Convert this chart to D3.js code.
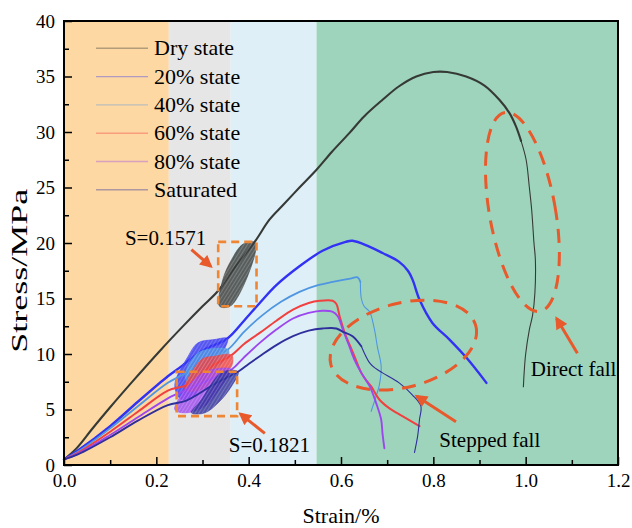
<!DOCTYPE html>
<html>
<head>
<meta charset="utf-8">
<script src="https://cdn.jsdelivr.net/npm/d3@7/dist/d3.min.js"></script>
<style>
  body { margin: 0; background: #fff; }
  text { font-family: "Liberation Serif", "Times New Roman", serif; fill: #000; }
</style>
</head>
<body>
<svg id="chart" width="632" height="528"></svg>
<script>
// ---- Stress–strain data (strain in %, stress in MPa) ----
const dryCurve = [[0,0.5],[0.027,1.5],[0.06,3.2],[0.1,5.2],[0.15,7.6],[0.208,10.3],[0.26,12.6],[0.3,14.3],[0.334,15.7],
  [0.37,17.8],[0.413,20.1],[0.445,22.1],[0.474,23.4],[0.51,25.0],[0.547,26.6],[0.58,28.2],[0.618,29.9],[0.65,31.4],
  [0.69,32.9],[0.725,34.1],[0.763,35.0],[0.80,35.4],[0.83,35.4],[0.871,35.0],[0.91,34.2],[0.943,32.9],[0.965,31.7],
  [0.979,30.5],[0.99,29.2],[1.001,27.5],[1.008,25.0],[1.013,23.0],[1.018,20.0],[1.021,18.5],[1.02,15.5],[1.015,13.5],
  [1.008,12.2],[1.0,10.0],[0.997,8.5],[0.995,7.0]];
const dryLoops = [[0.337,14.3],[0.363,14.4],[0.415,20.0],[0.388,19.9],[0.363,18.5],[0.344,16.7]];

const s20Curve = [[0,0.5],[0.03,1.3],[0.1,3.5],[0.16,5.7],[0.225,8.0],[0.245,8.6],[0.3,10.3],[0.354,11.4],[0.39,13.0],
  [0.424,14.6],[0.46,16.2],[0.51,17.9],[0.56,19.3],[0.61,20.1],[0.625,20.2],[0.66,19.7],[0.69,19.1],[0.726,18.3],
  [0.745,17.5],[0.755,16.7],[0.77,14.9],[0.798,12.8],[0.835,11.3],[0.871,9.7],[0.915,7.4]];
const s20Loops = [[0.240,7.2],[0.269,9.8],[0.290,11.0],[0.326,11.3],[0.354,11.4],[0.348,10.5],[0.326,9.3],[0.305,7.7],
  [0.283,6.3],[0.254,5.9]];

const s40Curve = [[0,0.5],[0.03,1.2],[0.1,3.3],[0.16,5.3],[0.225,7.4],[0.26,8.2],[0.31,9.5],[0.355,10.4],[0.39,12.0],
  [0.43,13.5],[0.47,14.7],[0.51,15.6],[0.55,16.2],[0.582,16.5],[0.62,16.8],[0.636,16.9],[0.642,16.5],[0.644,15.0],
  [0.65,14.3],[0.662,13.8],[0.672,12.3],[0.679,10.6],[0.687,8.9],[0.683,7.2],[0.676,6.2],[0.665,4.8]];
const s40Loops = [[0.262,8.0],[0.290,10.1],[0.355,10.4],[0.355,9.8],[0.305,8.0],[0.276,7.1]];

const s60Curve = [[0,0.5],[0.03,1.1],[0.1,3.0],[0.16,4.8],[0.225,6.7],[0.265,7.2],[0.32,8.9],[0.363,9.9],[0.39,10.9],
  [0.424,11.9],[0.46,13.0],[0.496,14.0],[0.53,14.6],[0.554,14.8],[0.582,14.8],[0.59,14.5],[0.597,13.4],[0.608,11.9],
  [0.62,10.7],[0.629,9.8],[0.644,8.3],[0.655,7.6],[0.665,7.1],[0.683,5.9],[0.705,5.1],[0.733,4.4],[0.77,3.5]];
const s60Loops = [[0.262,6.8],[0.298,9.5],[0.326,9.8],[0.363,9.9],[0.363,8.9],[0.334,8.0],[0.298,6.8]];

const s80Curve = [[0,0.5],[0.03,1.0],[0.1,2.7],[0.16,4.3],[0.225,6.0],[0.245,6.4],[0.31,7.6],[0.363,8.6],[0.39,9.7],
  [0.424,11.0],[0.46,12.2],[0.496,13.2],[0.53,13.7],[0.56,13.9],[0.582,13.8],[0.593,13.4],[0.604,12.2],[0.618,10.7],
  [0.629,9.5],[0.644,8.3],[0.662,7.1],[0.676,5.6],[0.687,4.1],[0.69,2.8],[0.694,1.5]];
const s80Loops = [[0.240,5.0],[0.269,7.1],[0.305,8.4],[0.363,8.6],[0.341,7.1],[0.305,5.3],[0.262,4.7]];

const satCurve = [[0,0.5],[0.03,0.95],[0.1,2.5],[0.16,4.0],[0.225,5.4],[0.265,5.8],[0.33,7.4],[0.377,8.4],[0.40,9.1],
  [0.424,9.8],[0.46,10.8],[0.496,11.6],[0.53,12.1],[0.56,12.3],[0.59,12.3],[0.604,12.0],[0.625,11.6],[0.644,10.7],
  [0.662,9.2],[0.675,8.7],[0.69,8.3],[0.726,7.4],[0.755,6.3],[0.773,5.3],[0.77,4.1],[0.766,2.6],[0.759,1.1]];
const satLoops = [[0.276,4.7],[0.298,5.9],[0.326,7.7],[0.344,8.4],[0.377,8.4],[0.363,7.1],[0.334,5.6],[0.305,4.7]];

const seriesNames = ["Dry state", "20% state", "40% state", "60% state", "80% state", "Saturated"];

// Stage bands along the strain axis
const bandEdges = [0, 0.227, 0.361, 0.547, 1.2];

// Axis ticks
const xTicks = [0, 0.2, 0.4, 0.6, 0.8, 1.0, 1.2];
const xMinor = [0.1, 0.3, 0.5, 0.7, 0.9, 1.1];
const yTicks = [0, 5, 10, 15, 20, 25, 30, 35, 40];
const yMinor = [2.5, 7.5, 12.5, 17.5, 22.5, 27.5, 32.5, 37.5];

// ---- Styling ----
const bandColors = ["#fdd8a3", "#e6e6e6", "#dfeff7", "#9fd4bc"];
const colors = ["#363a37", "#3232f4", "#4f96e2", "#f0403f", "#9c46ee", "#2e2e9c"];
const widths = [2.1, 2.4, 1.8, 2.0, 1.9, 1.9];
// the post-failure traces are drawn with a finer pen from this point index on (null = whole trace)
const thinFrom = [28, null, 16, null, null, 17];
const curves = [dryCurve, s20Curve, s40Curve, s60Curve, s80Curve, satCurve];
const loops = [dryLoops, s20Loops, s40Loops, s60Loops, s80Loops, satLoops];

const svg = d3.select("#chart");
const x = d3.scaleLinear().domain([0, 1.2]).range([64, 618]);
const y = d3.scaleLinear().domain([0, 40]).range([465, 21]);

const defs = svg.append("defs");
// Streak texture for the dense unloading/reloading cycles
colors.forEach((c, i) => {
  const p = defs.append("pattern").attr("id", "cyc" + i).attr("patternUnits", "userSpaceOnUse")
    .attr("width", 3).attr("height", 3).attr("patternTransform", "rotate(32)");
  p.append("line").attr("x1", 0.5).attr("x2", 0.5).attr("y1", 0).attr("y2", 3)
    .attr("stroke", "#ffffff").attr("stroke-opacity", 0.28).attr("stroke-width", 0.7);
});

// Background bands
svg.append("g").selectAll("rect")
  .data(d3.range(bandEdges.length - 1))
  .join("rect")
  .attr("x", i => x(bandEdges[i]))
  .attr("width", i => x(bandEdges[i + 1]) - x(bandEdges[i]))
  .attr("y", y(40)).attr("height", y(0) - y(40))
  .attr("fill", i => bandColors[i]);

const line = d3.line().x(d => x(d[0])).y(d => y(d[1])).curve(d3.curveCatmullRom.alpha(0.5));
const loopShape = d3.line().x(d => x(d[0])).y(d => y(d[1])).curve(d3.curveCatmullRomClosed.alpha(0.5));

const plot = svg.append("g");
curves.forEach((c, i) => {
  const cut = thinFrom[i];
  const main = cut == null ? c : c.slice(0, cut + 1);
  plot.append("path").attr("d", line(main)).attr("fill", "none")
    .attr("stroke", colors[i]).attr("stroke-width", widths[i])
    .attr("stroke-linejoin", "round").attr("stroke-linecap", "round");
  if (cut != null) {
    plot.append("path").attr("d", line(c.slice(cut))).attr("fill", "none")
      .attr("stroke", colors[i]).attr("stroke-width", 1.1).attr("stroke-linejoin", "round");
  }
  plot.append("path").attr("d", loopShape(loops[i]))
    .attr("fill", colors[i]).attr("fill-opacity", 0.8)
    .attr("stroke", colors[i]).attr("stroke-width", 0.8).attr("stroke-opacity", 0.7);
  plot.append("path").attr("d", loopShape(loops[i])).attr("fill", `url(#cyc${i})`);
});

// ---- Annotations ----
const boxColor = "#ef8634";
const markColor = "#e8592b";
defs.append("marker").attr("id", "head").attr("viewBox", "0 0 10 10")
  .attr("refX", 8).attr("refY", 5).attr("markerWidth", 4.6).attr("markerHeight", 4.2)
  .attr("markerUnits", "strokeWidth").attr("orient", "auto")
  .append("path").attr("d", "M0,0 L10,5 L0,10 Z").attr("fill", markColor);

const ann = svg.append("g");
const dashBoxes = [
  { x0: 0.334, x1: 0.417, y0: 14.3, y1: 20.1 },
  { x0: 0.244, x1: 0.375, y0: 4.4, y1: 8.4 }
];
dashBoxes.forEach(b => {
  ann.append("rect").attr("x", x(b.x0)).attr("y", y(b.y1))
    .attr("width", x(b.x1) - x(b.x0)).attr("height", y(b.y0) - y(b.y1))
    .attr("fill", "none").attr("stroke", boxColor).attr("stroke-width", 2.6)
    .attr("stroke-dasharray", "8,5");
});

const ellipses = [
  { cx: 0.735, cy: 10.8, rx: 75, ry: 42, rot: -15 },
  { cx: 0.993, cy: 22.8, rx: 33, ry: 101, rot: -10 }
];
ellipses.forEach(e => {
  ann.append("ellipse")
    .attr("transform", `translate(${x(e.cx)},${y(e.cy)}) rotate(${e.rot})`)
    .attr("rx", e.rx).attr("ry", e.ry)
    .attr("fill", "none").attr("stroke", markColor).attr("stroke-width", 3)
    .attr("stroke-dasharray", "14,9");
});

const arrows = [
  { from: [0.276, 19.4], to: [0.318, 17.9] },
  { from: [0.435, 2.85], to: [0.382, 4.6] },
  { from: [0.849, 3.9], to: [0.764, 6.2] },
  { from: [1.112, 10.06], to: [1.067, 13.2] }
];
arrows.forEach(a => {
  ann.append("line")
    .attr("x1", x(a.from[0])).attr("y1", y(a.from[1]))
    .attr("x2", x(a.to[0])).attr("y2", y(a.to[1]))
    .attr("stroke", markColor).attr("stroke-width", 3)
    .attr("marker-end", "url(#head)");
});

const notes = [
  { text: "S=0.1571", at: [0.132, 19.8] },
  { text: "S=0.1821", at: [0.357, 1.2] },
  { text: "Stepped fall", at: [0.813, 1.6] },
  { text: "Direct fall", at: [1.011, 8.0] }
];
ann.selectAll("text.note").data(notes).join("text").attr("class", "note")
  .attr("x", d => x(d.at[0])).attr("y", d => y(d.at[1]))
  .attr("font-size", 21).text(d => d.text);

// ---- Axes ----
const axes = svg.append("g");
axes.append("g").attr("transform", `translate(0,${y(0)})`)
  .call(d3.axisBottom(x).tickValues(xTicks).tickFormat(d3.format(".1f")).tickSize(-8).tickPadding(9));
axes.append("g").attr("transform", `translate(0,${y(0)})`)
  .call(d3.axisBottom(x).tickValues(xMinor).tickFormat("").tickSize(-5));
axes.append("g").attr("transform", `translate(${x(0)},0)`)
  .call(d3.axisLeft(y).tickValues(yTicks).tickFormat(d3.format("d")).tickSize(-8).tickPadding(9));
axes.append("g").attr("transform", `translate(${x(0)},0)`)
  .call(d3.axisLeft(y).tickValues(yMinor).tickFormat("").tickSize(-5));
axes.selectAll(".domain").remove();
axes.selectAll(".tick line").attr("stroke", "#000").attr("stroke-width", 1.5);
axes.selectAll(".tick text").attr("font-size", 19).attr("font-family", "Liberation Serif, serif").attr("fill", "#000");

// Frame
svg.append("rect").attr("x", x(0)).attr("y", y(40))
  .attr("width", x(1.2) - x(0)).attr("height", y(0) - y(40))
  .attr("fill", "none").attr("stroke", "#000").attr("stroke-width", 2);

// Axis titles
svg.append("text").attr("x", (x(0) + x(1.2)) / 2).attr("y", 523)
  .attr("text-anchor", "middle").attr("font-size", 22).text("Strain/%");
svg.append("text").attr("transform", `translate(27,${(y(10) + y(25)) / 2}) rotate(-90)`)
  .attr("text-anchor", "middle").attr("font-size", 24)
  .attr("textLength", 164).attr("lengthAdjust", "spacingAndGlyphs").text("Stress/MPa");

// ---- Legend ----
const legend = svg.append("g");
seriesNames.forEach((name, i) => {
  const cy = 48.3 + i * 28.3;
  legend.append("line").attr("x1", 96).attr("x2", 148).attr("y1", cy).attr("y2", cy)
    .attr("stroke", colors[i]).attr("stroke-opacity", 0.38).attr("stroke-width", 1.4);
  legend.append("text").attr("x", 154).attr("y", cy + 7).attr("font-size", 22).text(name);
});
</script>
</body>
</html>
